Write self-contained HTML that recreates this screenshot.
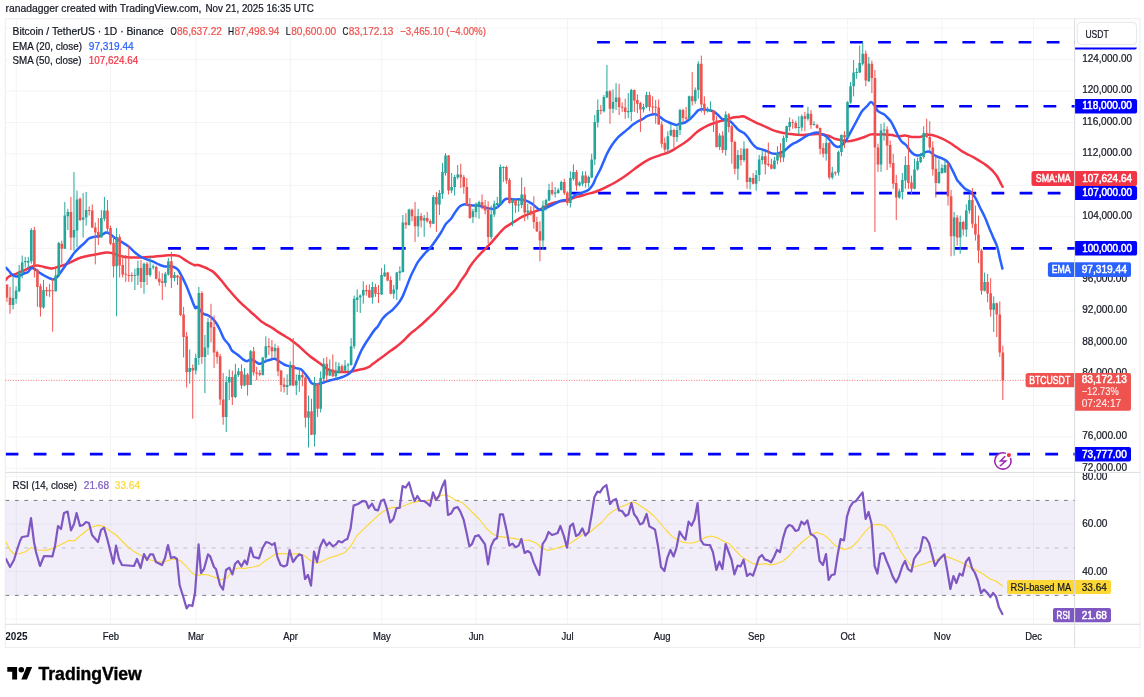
<!DOCTYPE html>
<html lang="en"><head><meta charset="utf-8"><title>BTCUSDT chart</title>
<style>html,body{margin:0;padding:0;background:#fff}svg{display:block}text{font-family:"Liberation Sans",sans-serif;white-space:pre}</style></head><body>
<svg width="1144" height="697" viewBox="0 0 1144 697">
<rect width="1144" height="697" fill="#fff"/>
<text x="5.5" y="12" font-size="10.5" fill="#131722" stroke="#131722" stroke-width="0.22" textLength="196" lengthAdjust="spacingAndGlyphs">ranadagger created with TradingView.com,</text>
<text x="205.4" y="12" font-size="10.5" fill="#131722" stroke="#131722" stroke-width="0.22" textLength="108.4" lengthAdjust="spacingAndGlyphs">Nov 21, 2025 16:35 UTC</text>
<g stroke="#f3f4f5" stroke-width="1" fill="none">
<path d="M5.25 28.10H1074.6"/>
<path d="M5.25 59.55H1074.6"/>
<path d="M5.25 91.00H1074.6"/>
<path d="M5.25 122.45H1074.6"/>
<path d="M5.25 153.90H1074.6"/>
<path d="M5.25 185.35H1074.6"/>
<path d="M5.25 216.80H1074.6"/>
<path d="M5.25 248.25H1074.6"/>
<path d="M5.25 279.70H1074.6"/>
<path d="M5.25 311.15H1074.6"/>
<path d="M5.25 342.60H1074.6"/>
<path d="M5.25 374.05H1074.6"/>
<path d="M5.25 405.50H1074.6"/>
<path d="M5.25 436.95H1074.6"/>
<path d="M5.25 468.40H1074.6"/>
<path d="M5.25 476.65H1074.6"/>
<path d="M5.25 524.15H1074.6"/>
<path d="M5.25 571.65H1074.6"/>
<path d="M5.25 619.15H1074.6"/>
<path d="M16.25 18.75V624.3"/>
<path d="M110.66 18.75V624.3"/>
<path d="M195.93 18.75V624.3"/>
<path d="M290.35 18.75V624.3"/>
<path d="M381.71 18.75V624.3"/>
<path d="M476.12 18.75V624.3"/>
<path d="M567.49 18.75V624.3"/>
<path d="M661.90 18.75V624.3"/>
<path d="M756.31 18.75V624.3"/>
<path d="M847.67 18.75V624.3"/>
<path d="M942.08 18.75V624.3"/>
<path d="M1033.45 18.75V624.3"/>
</g>
<rect x="5.25" y="18.75" width="1134.75" height="628.85" stroke="#ebecee" stroke-width="1" fill="none"/>
<g stroke="#dcdde0" stroke-width="1" fill="none">
<path d="M5.25 472.4H1140.0"/>
<path d="M5.25 624.3H1140.0"/>
<path d="M1074.6 18.75V647.6"/>
</g>
<rect x="5.75" y="500.40" width="1068.85" height="95.00" fill="#7e57c2" fill-opacity="0.1"/>
<g fill="none" stroke-width="1" stroke-dasharray="3.8 5.566">
<path d="M5.6 500.40H1074.6" stroke="#787b86"/>
<path d="M5.6 547.90H1074.6" stroke="#787b86" stroke-opacity="0.4"/>
<path d="M5.6 595.40H1074.6" stroke="#787b86"/>
</g>
<defs><clipPath id="cp"><rect x="5.75" y="18.75" width="1068.85" height="453.65"/></clipPath></defs>
<path d="M5.25 380.4H1074.6" stroke="#ef5350" stroke-width="1" stroke-dasharray="1 1.55" fill="none" stroke-opacity="0.8"/>
<path d="M597.1 42.25H1077.6" stroke="#0000ff" stroke-width="2.7" stroke-dasharray="12.8 15.3" fill="none" clip-path="url(#cp)"/>
<path d="M762.5 106.25H1077.6" stroke="#0000ff" stroke-width="2.7" stroke-dasharray="12.8 15.3" fill="none" clip-path="url(#cp)"/>
<path d="M570.0 193.1H1077.6" stroke="#0000ff" stroke-width="2.7" stroke-dasharray="12.8 15.3" fill="none" clip-path="url(#cp)"/>
<path d="M168.1 248.4H1077.6" stroke="#0000ff" stroke-width="2.7" stroke-dasharray="12.8 15.3" fill="none" clip-path="url(#cp)"/>
<path d="M5.6 454.1H1077.6" stroke="#0000ff" stroke-width="2.7" stroke-dasharray="12.8 15.3" fill="none" clip-path="url(#cp)"/>
<g clip-path="url(#cp)">
<path d="M5.6 280.0C6.2 279.4 7.3 277.5 9.0 276.5C10.7 275.5 13.3 274.8 16.0 273.8C18.7 272.7 22.5 271.1 25.0 270.0C27.5 268.9 29.0 267.6 31.0 266.9C33.0 266.2 34.8 265.6 37.0 265.6C39.2 265.6 41.5 266.4 44.0 266.9C46.5 267.4 49.3 268.5 52.0 268.4C54.7 268.3 57.2 267.1 60.0 266.2C62.8 265.4 65.5 264.6 69.0 263.1C72.5 261.6 76.8 258.9 81.0 257.5C85.2 256.1 89.8 255.5 94.0 254.7C98.2 253.9 103.0 252.8 106.0 252.5C109.0 252.2 109.8 252.6 112.0 253.1C114.2 253.6 116.8 255.0 119.0 255.6C121.2 256.2 122.2 256.6 125.0 256.9C127.8 257.2 132.2 257.5 136.0 257.5C139.8 257.5 143.8 257.2 148.0 257.0C152.2 256.8 157.7 256.3 161.0 256.0C164.3 255.7 166.0 255.4 168.0 255.2C170.0 255.1 171.2 255.1 173.0 255.2C174.8 255.4 176.8 255.4 179.0 256.2C181.2 257.1 183.5 259.1 186.0 260.6C188.5 262.1 192.0 264.3 194.0 265.0C196.0 265.7 196.2 264.6 198.0 265.0C199.8 265.4 203.0 266.7 205.0 267.5C207.0 268.3 208.5 269.2 210.0 270.0C211.5 270.8 212.0 270.6 214.0 272.5C216.0 274.4 219.5 278.3 222.0 281.2C224.5 284.2 226.2 286.7 229.0 290.0C231.8 293.3 235.5 297.7 239.0 301.2C242.5 304.8 247.0 308.5 250.0 311.2C253.0 314.0 255.2 315.8 257.0 317.5C258.8 319.2 259.3 320.0 261.0 321.2C262.7 322.5 265.0 323.8 267.0 325.0C269.0 326.2 271.2 327.2 273.0 328.4C274.8 329.5 276.0 330.6 278.0 331.9C280.0 333.2 282.8 334.9 285.0 336.2C287.2 337.6 288.7 338.3 291.0 340.0C293.3 341.7 296.7 344.3 299.0 346.2C301.3 348.2 303.2 350.2 305.0 351.9C306.8 353.6 308.2 354.8 310.0 356.2C311.8 357.7 314.0 359.1 316.0 360.6C318.0 362.1 320.0 363.5 322.0 365.0C324.0 366.5 326.2 368.4 328.0 369.4C329.8 370.4 330.8 370.8 333.0 371.2C335.2 371.7 338.3 371.8 341.0 371.9C343.7 372.0 347.0 372.0 349.0 371.9C351.0 371.8 351.5 371.6 353.0 371.2C354.5 370.9 356.2 370.4 358.0 370.0C359.8 369.6 362.2 369.3 364.0 368.8C365.8 368.2 367.5 367.7 369.0 366.9C370.5 366.1 371.5 364.9 373.0 363.8C374.5 362.6 376.0 361.5 378.0 360.0C380.0 358.5 382.8 356.6 385.0 355.0C387.2 353.4 389.0 352.1 391.0 350.6C393.0 349.1 395.0 347.8 397.0 346.2C399.0 344.7 401.0 343.1 403.0 341.2C405.0 339.4 407.0 336.9 409.0 335.0C411.0 333.1 413.0 331.7 415.0 330.0C417.0 328.3 418.8 326.9 421.0 325.0C423.2 323.1 425.7 320.7 428.0 318.5C430.3 316.3 432.7 314.2 435.0 311.9C437.3 309.5 439.3 307.3 442.0 304.4C444.7 301.5 448.7 297.0 451.0 294.4C453.3 291.8 454.3 291.1 456.0 288.8C457.7 286.4 459.3 283.1 461.0 280.6C462.7 278.1 464.5 276.1 466.0 273.8C467.5 271.4 468.2 269.2 470.0 266.5C471.8 263.8 474.3 260.6 477.0 257.5C479.7 254.4 483.5 250.7 486.0 248.1C488.5 245.5 489.7 244.5 492.0 241.9C494.3 239.3 497.8 234.9 500.0 232.5C502.2 230.1 503.3 228.8 505.0 227.5C506.7 226.2 508.2 225.6 510.0 224.4C511.8 223.2 514.0 221.8 516.0 220.6C518.0 219.3 519.8 218.0 522.0 216.9C524.2 215.8 526.7 214.7 529.0 213.8C531.3 212.8 533.7 212.2 536.0 211.2C538.3 210.3 540.8 209.2 543.0 208.1C545.2 207.0 547.0 205.3 549.0 204.4C551.0 203.5 553.0 203.0 555.0 202.5C557.0 202.0 559.0 201.6 561.0 201.2C563.0 200.9 564.8 200.9 567.0 200.3C569.2 199.7 571.8 198.4 574.0 197.7C576.2 197.0 578.0 196.8 580.0 196.2C582.0 195.7 583.7 195.1 586.0 194.4C588.3 193.7 591.7 193.0 594.0 192.3C596.3 191.6 597.7 191.0 600.0 190.0C602.3 189.0 605.5 187.5 608.0 186.2C610.5 185.0 612.5 184.0 615.0 182.5C617.5 181.0 620.5 179.2 623.0 177.5C625.5 175.8 627.3 174.5 630.0 172.5C632.7 170.5 635.8 167.8 639.0 165.6C642.2 163.4 645.7 161.1 649.0 159.4C652.3 157.7 655.8 156.8 659.0 155.6C662.2 154.4 665.3 153.6 668.0 152.5C670.7 151.4 672.5 150.2 675.0 148.8C677.5 147.3 680.5 145.5 683.0 143.8C685.5 142.0 687.7 140.5 690.0 138.5C692.3 136.5 694.7 133.7 697.0 131.9C699.3 130.1 702.0 128.7 704.0 127.5C706.0 126.3 707.2 125.8 709.0 125.0C710.8 124.2 713.0 123.4 715.0 122.7C717.0 122.0 719.0 121.5 721.0 120.9C723.0 120.4 725.0 120.0 727.0 119.4C729.0 118.8 731.0 117.9 733.0 117.5C735.0 117.1 737.3 117.1 739.0 116.9C740.7 116.7 741.8 116.2 743.0 116.2C744.2 116.3 744.7 116.9 746.0 117.5C747.3 118.1 749.2 119.1 751.0 120.0C752.8 120.9 755.0 122.2 757.0 123.1C759.0 124.0 760.7 124.5 763.0 125.6C765.3 126.6 768.3 128.3 771.0 129.4C773.7 130.5 776.2 131.3 779.0 132.0C781.8 132.7 785.0 133.2 788.0 133.7C791.0 134.1 794.5 134.5 797.0 134.7C799.5 134.9 800.7 135.1 803.0 135.0C805.3 134.9 808.5 134.6 811.0 134.4C813.5 134.2 815.8 133.9 818.0 133.9C820.2 133.9 822.2 134.1 824.0 134.4C825.8 134.8 827.2 135.3 829.0 136.0C830.8 136.7 833.0 138.1 835.0 138.8C837.0 139.4 838.8 139.6 841.0 140.0C843.2 140.4 845.7 141.2 848.0 141.2C850.3 141.2 852.5 140.6 855.0 140.0C857.5 139.4 860.3 138.4 863.0 137.5C865.7 136.6 868.7 134.9 871.0 134.4C873.3 133.9 874.7 134.4 877.0 134.4C879.3 134.4 882.5 134.3 885.0 134.4C887.5 134.5 889.8 134.7 892.0 135.0C894.2 135.3 895.8 136.2 898.0 136.2C900.2 136.3 902.7 135.5 905.0 135.6C907.3 135.7 909.5 136.7 912.0 136.9C914.5 137.1 917.7 137.2 920.0 136.9C922.3 136.6 924.0 135.3 926.0 135.0C928.0 134.7 930.0 134.7 932.0 135.0C934.0 135.3 936.0 136.2 938.0 136.9C940.0 137.7 941.8 138.4 944.0 139.5C946.2 140.6 949.0 142.2 951.0 143.5C953.0 144.8 954.0 145.6 956.0 147.0C958.0 148.4 960.8 150.6 963.0 151.9C965.2 153.2 967.0 154.0 969.0 155.0C971.0 156.0 973.2 157.1 975.0 158.1C976.8 159.1 978.3 160.2 980.0 161.2C981.7 162.3 983.5 163.4 985.0 164.4C986.5 165.4 987.7 166.4 989.0 167.5C990.3 168.6 991.7 169.8 993.0 171.2C994.3 172.7 995.8 174.5 997.0 176.2C998.2 178.0 999.1 180.1 1000.0 181.9C1000.9 183.7 1002.2 186.0 1002.6 186.8" stroke="#f23645" stroke-width="2.5" fill="none" stroke-linejoin="round" stroke-linecap="round"/>
<path d="M5.6 267.5C6.2 268.1 7.9 269.8 9.0 271.0C10.1 272.2 10.8 273.6 12.0 274.5C13.2 275.4 14.7 276.3 16.0 276.5C17.3 276.7 18.7 276.0 20.0 275.5C21.3 275.0 22.7 274.1 24.0 273.5C25.3 272.9 26.8 272.9 28.0 272.0C29.2 271.1 30.3 268.7 31.2 268.1C32.2 267.5 32.7 268.2 33.5 268.5C34.3 268.8 34.9 269.2 36.0 270.0C37.1 270.8 38.5 272.0 40.0 273.0C41.5 274.0 42.9 274.9 45.0 276.0C47.1 277.1 50.7 279.1 52.5 279.4C54.3 279.7 55.0 278.7 56.0 278.0C57.0 277.3 57.6 276.5 58.8 275.0C59.9 273.5 61.5 271.1 63.0 269.0C64.5 266.9 66.2 264.4 67.5 262.5C68.8 260.6 69.8 259.2 71.0 257.5C72.2 255.8 73.3 253.9 75.0 252.0C76.7 250.1 79.3 247.6 81.0 246.0C82.7 244.4 83.7 243.8 85.0 242.5C86.3 241.2 87.5 239.4 89.0 238.5C90.5 237.6 92.2 237.3 94.0 236.9C95.8 236.5 98.0 236.7 100.0 236.0C102.0 235.3 104.3 232.8 106.0 232.5C107.7 232.2 108.5 233.1 110.0 234.0C111.5 234.9 113.3 236.8 115.0 238.0C116.7 239.2 117.8 239.7 120.0 241.0C122.2 242.3 125.5 244.1 128.0 246.0C130.5 247.9 132.7 250.6 135.0 252.5C137.3 254.4 139.2 256.0 142.0 257.5C144.8 259.0 149.0 260.0 152.0 261.2C155.0 262.5 157.8 264.1 160.0 265.0C162.2 265.9 163.2 266.3 165.0 266.5C166.8 266.7 169.0 265.9 171.0 266.2C173.0 266.6 175.4 267.5 177.0 268.8C178.6 270.0 179.0 271.0 180.5 273.8C182.0 276.5 184.4 281.5 186.0 285.0C187.6 288.5 188.5 291.2 190.0 295.0C191.5 298.8 193.8 305.5 195.0 307.5C196.2 309.5 196.2 306.0 197.5 307.0C198.8 308.0 201.2 312.1 203.0 313.5C204.8 314.9 206.5 314.6 208.0 315.3C209.5 316.1 210.7 316.8 212.0 318.0C213.3 319.2 214.7 320.7 216.0 322.7C217.3 324.7 218.7 327.3 220.0 330.0C221.3 332.7 222.5 336.2 224.0 338.8C225.5 341.2 227.7 343.0 229.0 345.0C230.3 347.0 230.5 348.9 232.0 350.6C233.5 352.3 236.2 353.5 238.0 355.0C239.8 356.5 241.5 358.4 243.0 359.4C244.5 360.4 245.7 361.2 247.0 361.2C248.3 361.2 249.7 359.4 251.0 359.4C252.3 359.4 253.7 360.5 255.0 361.2C256.3 362.0 257.7 363.5 259.0 363.8C260.3 364.0 261.7 363.0 263.0 362.5C264.3 362.0 265.5 361.2 267.0 360.6C268.5 360.1 270.7 359.5 272.0 359.2C273.3 358.9 273.8 358.4 275.0 358.8C276.2 359.1 277.7 360.4 279.0 361.2C280.3 362.1 281.7 363.0 283.0 363.8C284.3 364.5 285.7 365.2 287.0 365.6C288.3 366.0 289.5 365.8 291.0 366.2C292.5 366.7 294.3 367.6 296.0 368.1C297.7 368.6 299.7 368.7 301.0 369.4C302.3 370.1 302.8 371.1 304.0 372.5C305.2 373.9 306.8 375.8 308.0 377.5C309.2 379.2 310.2 381.5 311.0 382.5C311.8 383.5 312.0 383.4 313.0 383.8C314.0 384.1 315.5 384.5 317.0 384.4C318.5 384.3 320.3 383.6 322.0 383.1C323.7 382.6 325.0 381.9 327.0 381.2C329.0 380.6 331.7 380.0 334.0 379.4C336.3 378.8 338.8 378.2 341.0 377.5C343.2 376.8 345.3 375.9 347.0 375.0C348.7 374.1 349.8 373.1 351.0 371.9C352.2 370.6 353.0 369.4 354.0 367.5C355.0 365.6 355.8 363.3 357.0 360.6C358.2 357.9 359.5 354.3 361.0 351.2C362.5 348.2 364.3 345.2 366.0 342.5C367.7 339.8 369.5 337.2 371.0 335.0C372.5 332.8 373.8 330.9 375.0 329.4C376.2 327.9 376.8 327.9 378.0 326.2C379.2 324.6 380.7 321.3 382.0 319.4C383.3 317.5 384.7 316.2 386.0 315.0C387.3 313.8 388.8 312.8 390.0 311.9C391.2 311.0 391.5 311.0 393.0 309.4C394.5 307.8 397.3 304.8 399.0 302.5C400.7 300.2 401.7 298.4 403.0 295.6C404.3 292.8 405.7 288.9 407.0 285.6C408.3 282.3 409.7 278.6 411.0 275.6C412.3 272.6 413.8 269.8 415.0 267.5C416.2 265.2 416.5 264.1 418.0 261.9C419.5 259.7 422.0 256.7 424.0 254.4C426.0 252.1 428.0 250.5 430.0 248.1C432.0 245.7 434.2 242.6 436.0 240.0C437.8 237.4 439.3 235.2 441.0 232.5C442.7 229.8 444.3 226.0 446.0 223.8C447.7 221.5 449.5 220.6 451.0 218.8C452.5 216.9 453.5 214.6 455.0 212.5C456.5 210.4 458.5 207.6 460.0 206.2C461.5 204.9 462.5 204.6 464.0 204.4C465.5 204.2 467.2 204.8 469.0 205.0C470.8 205.2 473.5 205.5 475.0 205.6C476.5 205.7 476.7 205.4 478.0 205.6C479.3 205.8 481.2 206.4 483.0 206.9C484.8 207.4 487.3 208.1 489.0 208.4C490.7 208.8 491.7 209.2 493.0 209.0C494.3 208.8 495.7 208.4 497.0 207.5C498.3 206.6 499.7 205.1 501.0 203.8C502.3 202.4 503.8 200.2 505.0 199.4C506.2 198.6 506.5 198.8 508.0 198.8C509.5 198.8 512.0 199.3 514.0 199.4C516.0 199.5 518.0 199.2 520.0 199.4C522.0 199.6 524.2 200.0 526.0 200.6C527.8 201.2 529.5 202.2 531.0 203.1C532.5 204.0 533.7 205.2 535.0 206.2C536.3 207.3 537.8 208.8 539.0 209.4C540.2 210.0 540.8 210.2 542.0 210.0C543.2 209.8 544.5 208.8 546.0 208.1C547.5 207.4 549.3 206.4 551.0 205.6C552.7 204.8 554.3 203.9 556.0 203.1C557.7 202.3 559.3 201.1 561.0 200.6C562.7 200.1 564.3 200.3 566.0 200.0C567.7 199.7 569.3 199.4 571.0 198.5C572.7 197.6 574.2 195.6 576.0 194.7C577.8 193.8 579.8 193.7 582.0 192.8C584.2 191.9 587.2 190.8 589.0 189.4C590.8 188.0 591.8 186.4 593.0 184.4C594.2 182.4 594.8 179.9 596.0 177.5C597.2 175.1 598.8 172.4 600.0 170.0C601.2 167.6 601.8 165.8 603.0 163.1C604.2 160.4 605.5 156.8 607.0 153.8C608.5 150.7 610.2 147.7 612.0 145.0C613.8 142.3 616.0 139.4 618.0 137.3C620.0 135.2 622.2 133.8 624.0 132.3C625.8 130.8 627.5 129.4 629.0 128.1C630.5 126.8 631.5 125.7 633.0 124.6C634.5 123.5 636.5 122.1 638.0 121.2C639.5 120.4 640.5 120.2 642.0 119.4C643.5 118.6 645.3 117.1 647.0 116.2C648.7 115.4 650.5 114.7 652.0 114.4C653.5 114.1 654.7 114.0 656.0 114.4C657.3 114.8 658.7 116.0 660.0 116.9C661.3 117.8 662.5 119.1 664.0 120.0C665.5 120.9 667.5 121.8 669.0 122.5C670.5 123.2 671.8 123.6 673.0 124.0C674.2 124.4 674.8 125.0 676.0 125.0C677.2 125.0 678.5 124.2 680.0 123.8C681.5 123.3 683.3 123.3 685.0 122.5C686.7 121.7 688.5 120.2 690.0 119.0C691.5 117.8 692.7 116.4 694.0 115.0C695.3 113.6 696.7 111.5 698.0 110.5C699.3 109.5 700.3 109.4 702.0 109.3C703.7 109.2 706.2 109.7 708.0 110.0C709.8 110.3 711.3 110.4 713.0 111.2C714.7 112.1 716.5 113.8 718.0 115.0C719.5 116.2 720.5 117.9 722.0 118.8C723.5 119.6 725.5 119.5 727.0 120.0C728.5 120.5 729.7 121.0 731.0 122.0C732.3 123.0 733.7 124.9 735.0 126.2C736.3 127.6 737.5 129.2 739.0 130.3C740.5 131.4 742.5 131.9 744.0 133.1C745.5 134.3 746.8 136.0 748.0 137.5C749.2 139.0 750.0 140.6 751.0 141.9C752.0 143.2 753.0 144.6 754.0 145.6C755.0 146.6 755.7 147.5 757.0 148.1C758.3 148.7 760.3 148.9 762.0 149.4C763.7 149.9 765.5 150.6 767.0 151.2C768.5 151.9 769.7 152.7 771.0 153.1C772.3 153.5 773.7 153.8 775.0 153.8C776.3 153.8 777.5 153.5 779.0 153.1C780.5 152.7 782.5 152.2 784.0 151.2C785.5 150.3 786.7 148.6 788.0 147.5C789.3 146.4 790.5 145.3 792.0 144.4C793.5 143.5 795.3 142.8 797.0 141.9C798.7 141.0 800.3 139.8 802.0 138.8C803.7 137.7 805.3 136.5 807.0 135.6C808.7 134.7 810.3 134.0 812.0 133.5C813.7 133.0 815.5 132.5 817.0 132.5C818.5 132.5 819.5 133.1 821.0 133.8C822.5 134.4 824.5 135.1 826.0 136.2C827.5 137.3 828.7 138.8 830.0 140.3C831.3 141.8 832.7 143.9 834.0 145.0C835.3 146.1 836.7 146.9 838.0 146.9C839.3 146.9 840.7 146.1 842.0 145.0C843.3 143.9 844.7 142.6 846.0 140.6C847.3 138.6 848.5 135.9 850.0 133.1C851.5 130.3 853.5 126.8 855.0 124.0C856.5 121.2 857.8 118.6 859.0 116.5C860.2 114.4 860.7 113.0 862.0 111.2C863.3 109.5 865.5 107.8 867.0 106.2C868.5 104.7 869.7 101.9 871.0 101.9C872.3 101.9 873.8 104.7 875.0 106.2C876.2 107.8 876.5 109.9 878.0 111.2C879.5 112.6 882.3 113.2 884.0 114.3C885.7 115.4 886.8 116.9 888.0 118.1C889.2 119.3 889.8 119.8 891.0 121.7C892.2 123.6 893.7 126.8 895.0 129.4C896.3 132.0 897.8 135.4 899.0 137.5C900.2 139.6 900.8 140.7 902.0 141.9C903.2 143.2 904.7 143.6 906.0 145.0C907.3 146.4 908.7 149.0 910.0 150.6C911.3 152.2 912.7 153.6 914.0 154.4C915.3 155.2 916.7 155.6 918.0 155.6C919.3 155.6 920.7 155.0 922.0 154.4C923.3 153.8 924.7 152.3 926.0 151.9C927.3 151.5 928.7 151.4 930.0 151.9C931.3 152.4 932.7 154.2 934.0 155.0C935.3 155.8 936.5 156.4 938.0 157.0C939.5 157.6 941.7 158.2 943.0 158.8C944.3 159.3 945.0 159.8 946.0 160.6C947.0 161.4 948.0 162.3 949.0 163.8C950.0 165.2 951.0 167.4 952.0 169.4C953.0 171.4 954.2 173.8 955.0 175.5C955.8 177.2 956.3 178.6 957.0 179.8C957.7 181.0 958.5 181.5 959.4 182.6C960.3 183.7 961.4 185.1 962.5 186.2C963.6 187.3 964.7 188.6 965.9 189.4C967.1 190.2 968.6 190.3 969.9 191.3C971.2 192.3 972.6 193.9 973.8 195.5C975.0 197.1 975.9 198.8 976.9 200.8C977.9 202.8 978.6 204.7 980.0 207.5C981.4 210.3 983.5 214.2 985.0 217.5C986.5 220.8 987.7 224.3 989.0 227.5C990.3 230.7 991.7 233.8 993.0 236.9C994.3 240.0 995.8 242.6 997.0 246.2C998.2 249.9 999.1 255.0 1000.0 258.8C1000.9 262.5 1002.0 267.0 1002.4 268.6" stroke="#2962ff" stroke-width="2.5" fill="none" stroke-linejoin="round" stroke-linecap="round"/>
</g>
<g clip-path="url(#cp)">
<path d="M13.05 276.25V309.40M16.10 286.25V303.75M19.15 265.00V292.00M22.19 255.60V278.10M25.24 256.90V267.50M28.28 256.90V268.10M31.33 228.10V263.75M43.51 280.00V308.75M55.69 268.75V291.50M58.74 241.90V276.25M64.83 201.90V249.00M67.87 208.75V230.00M73.96 172.10V250.60M77.01 190.60V246.90M83.10 193.10V237.50M86.15 191.90V225.60M101.37 210.00V237.50M104.42 196.90V221.25M116.60 228.10V316.25M134.87 268.75V290.00M137.92 260.60V285.00M144.01 262.50V293.75M150.10 256.90V276.90M153.15 264.40V269.40M165.33 271.90V286.90M168.38 258.10V275.60M174.47 271.90V281.25M189.69 349.40V383.75M195.78 353.75V374.40M198.83 286.90V365.00M204.92 335.00V393.10M207.97 318.10V355.00M226.24 376.25V431.90M229.28 369.40V400.00M235.38 363.75V398.10M238.42 368.10V376.90M244.51 368.10V386.25M250.60 350.00V385.00M262.79 356.90V375.60M265.83 336.25V361.90M274.97 343.75V357.50M287.15 374.40V395.00M290.20 361.25V385.60M296.29 374.40V395.00M299.33 368.75V391.90M308.47 395.60V447.50M314.56 376.90V446.60M320.65 371.25V412.50M323.70 358.10V382.50M329.79 359.40V376.25M335.88 361.90V379.40M338.92 362.50V373.75M345.01 360.00V371.25M348.06 363.10V372.50M351.11 338.10V365.60M354.15 295.60V348.75M357.20 289.40V312.00M360.24 294.40V313.00M363.29 281.25V303.75M372.42 281.90V303.75M381.56 268.10V295.00M384.61 264.40V276.90M393.74 285.00V298.75M396.79 271.90V300.00M399.83 266.25V280.60M402.88 215.00V272.50M408.97 208.75V225.60M418.11 208.75V236.90M424.20 215.00V236.90M433.33 195.00V224.00M439.42 190.00V215.00M442.47 163.10V198.75M445.52 153.10V175.60M451.61 173.10V193.10M454.65 175.00V195.60M457.70 165.00V179.40M472.93 208.75V223.10M475.97 202.50V217.50M479.02 200.60V218.75M491.20 205.60V239.40M494.24 200.60V216.90M497.29 196.90V208.10M500.33 164.40V205.00M503.38 166.25V181.90M512.52 198.75V226.25M518.61 199.40V211.90M521.65 177.50V208.10M527.74 203.75V219.40M542.97 200.60V250.00M546.02 198.75V210.60M549.06 183.75V201.25M555.15 186.90V197.50M558.20 188.10V193.75M561.24 180.60V190.60M570.38 171.25V207.50M573.43 164.40V180.60M579.52 181.25V186.25M582.56 171.25V186.25M588.65 175.60V187.50M591.70 153.75V178.10M594.75 115.00V165.00M597.79 99.40V127.50M603.88 95.00V112.50M606.93 65.00V98.10M613.02 89.40V113.10M616.06 83.10V110.00M628.25 93.10V118.10M631.29 88.75V121.25M643.47 103.75V112.50M646.52 91.90V108.10M667.84 131.25V153.75M670.88 124.40V136.25M676.97 125.00V141.90M680.02 108.75V135.00M689.16 95.60V119.40M695.25 87.50V103.75M698.29 61.25V98.75M707.43 106.90V112.50M710.47 101.25V111.90M719.61 133.10V150.00M725.70 111.25V155.60M737.88 150.00V180.00M743.97 141.25V161.90M750.07 176.90V189.40M756.16 170.00V190.60M759.20 155.00V181.25M762.25 150.00V164.40M774.43 156.90V169.40M777.48 146.25V164.40M783.57 135.60V161.90M786.61 125.60V141.90M789.66 117.50V131.25M798.79 116.25V134.40M801.84 114.40V131.25M807.93 106.90V120.60M814.02 121.25V125.60M826.20 137.50V160.60M832.29 166.90V179.40M838.39 150.60V175.60M841.43 134.40V156.25M847.52 101.25V138.00M850.57 81.90V103.75M853.61 60.00V96.25M856.66 68.10V78.75M859.70 45.60V73.00M862.75 41.90V65.60M868.84 56.90V82.00M881.02 123.75V171.90M884.07 122.50V140.60M899.30 188.75V198.75M902.34 173.10V199.40M905.39 156.25V188.75M914.52 158.75V189.40M917.57 157.50V170.60M920.61 153.10V163.10M923.66 126.25V158.75M938.89 159.40V183.75M941.93 164.40V173.75M944.98 160.00V173.10M954.11 211.90V255.60M960.21 215.60V253.75M966.30 204.40V236.90M969.34 195.00V213.75M984.57 272.60V291.40M993.71 296.40V332.00" stroke="#26a69a" stroke-width="1" fill="none"/>
<path d="M6.96 284.40V301.90M10.01 286.90V313.75M34.37 226.90V277.50M37.42 268.75V306.90M40.46 283.75V316.50M46.56 286.90V296.25M49.60 283.75V296.90M52.65 278.75V331.70M61.78 240.60V263.75M70.92 196.90V250.00M80.06 197.50V221.25M89.19 206.25V215.60M92.24 204.40V228.10M95.28 222.50V264.40M98.33 218.10V245.00M107.47 200.00V233.10M110.51 225.60V245.00M113.56 236.25V277.50M119.65 234.40V277.50M122.69 255.00V277.50M125.74 255.00V281.90M128.78 245.60V281.90M131.83 272.50V281.90M140.97 260.00V288.10M147.06 261.90V285.00M156.19 265.60V279.40M159.24 271.25V285.60M162.28 273.10V300.00M171.42 251.90V288.10M177.51 275.00V285.00M180.56 275.60V316.25M183.60 306.90V357.50M186.65 331.90V387.50M192.74 364.40V418.75M201.88 291.25V363.75M211.01 303.75V342.50M214.06 315.60V368.10M217.10 350.60V363.75M220.15 353.75V405.00M223.19 373.10V424.75M232.33 370.60V405.00M241.47 364.40V388.75M247.56 373.10V395.60M253.65 346.90V375.60M256.69 366.90V380.00M259.74 370.00V376.25M268.88 338.10V355.00M271.92 340.00V358.10M278.01 345.60V376.25M281.06 370.00V391.90M284.10 377.50V392.50M293.24 338.10V386.25M302.38 371.90V386.25M305.42 375.00V427.50M311.51 398.75V435.00M317.60 383.00V416.90M326.74 356.90V381.25M332.83 354.40V376.90M341.97 364.40V371.90M366.33 285.00V295.60M369.38 284.40V298.00M375.47 283.75V296.90M378.51 285.00V303.10M387.65 271.90V281.25M390.70 276.25V294.40M405.92 213.10V228.75M412.02 208.75V221.25M415.06 201.90V241.90M421.15 213.10V227.50M427.24 211.90V222.50M430.29 219.40V227.50M436.38 191.90V231.90M448.56 155.00V194.40M460.74 163.75V188.10M463.79 175.00V193.75M466.83 178.10V205.60M469.88 198.10V218.75M482.06 194.40V209.40M485.11 200.00V214.40M488.15 201.25V243.75M506.43 165.60V183.75M509.47 178.10V203.75M515.56 199.40V213.10M524.70 186.90V221.25M530.79 206.25V215.60M533.84 196.25V228.75M536.88 216.90V232.00M539.93 221.25V261.25M552.11 181.90V195.60M564.29 178.75V195.00M567.34 191.25V205.60M576.47 170.00V190.60M585.61 171.25V187.50M600.84 105.00V114.40M609.97 90.00V123.75M619.11 83.75V115.00M622.15 102.50V111.90M625.20 98.75V118.75M634.34 89.40V111.90M637.38 94.40V113.10M640.43 101.90V131.90M649.56 91.90V111.25M652.61 96.25V113.75M655.66 100.00V123.75M658.70 99.40V125.00M661.75 121.25V147.50M664.79 137.50V151.90M673.93 128.75V148.10M683.06 108.75V122.50M686.11 106.90V120.00M692.20 71.90V105.60M701.34 55.60V112.50M704.38 96.25V115.00M713.52 110.00V131.90M716.57 116.25V147.50M722.66 131.25V153.10M728.75 113.10V132.50M731.79 125.00V163.75M734.84 140.60V174.40M740.93 148.10V165.60M747.02 148.10V188.75M753.11 173.10V184.40M765.29 151.90V174.40M768.34 142.50V166.90M771.38 158.75V169.40M780.52 143.10V162.50M792.70 119.40V128.75M795.75 120.60V128.75M804.88 111.90V131.25M810.98 110.00V128.75M817.07 123.75V128.75M820.11 127.50V154.40M823.16 143.10V157.50M829.25 141.90V179.40M835.34 171.25V175.60M844.48 131.25V148.10M865.79 50.60V86.25M871.89 60.60V93.10M874.93 70.00V231.90M877.98 143.75V171.90M887.11 126.25V170.00M890.16 140.60V167.50M893.20 153.75V188.75M896.25 175.00V220.00M908.43 136.25V188.75M911.48 175.60V195.00M926.70 118.75V138.10M929.75 121.25V151.25M932.80 141.25V175.60M935.84 156.90V197.50M948.02 162.50V205.60M951.07 190.00V256.25M957.16 215.00V245.60M963.25 220.60V235.60M972.39 188.10V228.10M975.43 205.60V240.60M978.48 215.60V263.10M981.52 248.75V294.75M987.61 273.90V302.25M990.66 278.25V316.75M996.75 302.60V337.00M999.80 301.40V356.90M1002.84 345.60V400.00" stroke="#ef5350" stroke-width="1" fill="none"/>
<path d="M11.75 298.10h2.6V305.00h-2.6zM14.80 290.60h2.6V298.75h-2.6zM17.85 271.90h2.6V291.25h-2.6zM20.89 262.50h2.6V272.50h-2.6zM23.94 261.00h2.6V262.25h-2.6zM26.98 261.00h2.6V262.50h-2.6zM30.03 230.00h2.6V261.25h-2.6zM42.21 290.00h2.6V307.50h-2.6zM54.39 275.60h2.6V291.25h-2.6zM57.44 243.00h2.6V275.60h-2.6zM63.53 215.60h2.6V248.75h-2.6zM66.57 211.90h2.6V216.25h-2.6zM72.66 230.00h2.6V237.50h-2.6zM75.71 199.40h2.6V230.60h-2.6zM81.80 217.50h2.6V219.75h-2.6zM84.85 210.00h2.6V217.50h-2.6zM100.07 218.10h2.6V237.50h-2.6zM103.12 210.60h2.6V218.75h-2.6zM115.30 236.90h2.6V266.25h-2.6zM133.57 275.00h2.6V276.00h-2.6zM136.62 268.10h2.6V275.60h-2.6zM142.71 263.75h2.6V281.90h-2.6zM148.80 268.10h2.6V275.00h-2.6zM151.85 266.25h2.6V267.50h-2.6zM164.03 273.75h2.6V283.10h-2.6zM167.07 261.25h2.6V274.40h-2.6zM173.17 275.00h2.6V278.10h-2.6zM188.39 368.10h2.6V371.90h-2.6zM194.48 358.10h2.6V370.60h-2.6zM197.53 293.10h2.6V358.10h-2.6zM203.62 347.50h2.6V356.90h-2.6zM206.67 321.90h2.6V347.50h-2.6zM224.94 381.90h2.6V416.90h-2.6zM227.98 376.90h2.6V382.50h-2.6zM234.08 374.40h2.6V396.90h-2.6zM237.12 371.25h2.6V375.00h-2.6zM243.21 374.40h2.6V385.60h-2.6zM249.30 351.25h2.6V385.00h-2.6zM261.49 357.50h2.6V375.00h-2.6zM264.53 346.25h2.6V357.50h-2.6zM273.67 348.10h2.6V351.25h-2.6zM285.85 385.00h2.6V386.90h-2.6zM288.90 365.00h2.6V385.60h-2.6zM294.99 380.60h2.6V385.60h-2.6zM298.03 375.00h2.6V380.60h-2.6zM307.17 411.25h2.6V417.75h-2.6zM313.26 383.75h2.6V434.75h-2.6zM319.35 378.10h2.6V408.75h-2.6zM322.40 363.75h2.6V378.75h-2.6zM328.49 369.40h2.6V375.60h-2.6zM334.58 371.25h2.6V376.25h-2.6zM337.62 366.25h2.6V373.10h-2.6zM343.71 365.60h2.6V370.60h-2.6zM346.76 364.50h2.6V365.60h-2.6zM349.81 346.25h2.6V365.00h-2.6zM352.85 298.75h2.6V346.25h-2.6zM355.90 297.50h2.6V300.00h-2.6zM358.94 295.60h2.6V297.50h-2.6zM361.99 290.00h2.6V295.60h-2.6zM371.12 286.90h2.6V297.50h-2.6zM380.26 275.00h2.6V294.40h-2.6zM383.31 272.50h2.6V276.25h-2.6zM392.44 289.40h2.6V293.75h-2.6zM395.49 272.50h2.6V289.40h-2.6zM398.53 271.25h2.6V273.10h-2.6zM401.58 222.50h2.6V271.90h-2.6zM407.67 209.40h2.6V225.00h-2.6zM416.81 216.00h2.6V226.25h-2.6zM422.90 218.10h2.6V220.60h-2.6zM432.03 196.90h2.6V223.75h-2.6zM438.12 193.10h2.6V204.40h-2.6zM441.17 171.90h2.6V193.75h-2.6zM444.22 155.60h2.6V173.10h-2.6zM450.31 186.90h2.6V190.60h-2.6zM453.35 176.90h2.6V186.90h-2.6zM456.40 174.40h2.6V177.50h-2.6zM471.62 211.25h2.6V216.90h-2.6zM474.67 203.75h2.6V211.90h-2.6zM477.72 201.90h2.6V205.00h-2.6zM489.90 214.40h2.6V236.90h-2.6zM492.94 203.75h2.6V214.40h-2.6zM495.99 203.10h2.6V205.00h-2.6zM499.03 166.90h2.6V203.75h-2.6zM502.08 166.90h2.6V168.10h-2.6zM511.22 200.00h2.6V203.10h-2.6zM517.31 204.40h2.6V205.60h-2.6zM520.35 194.40h2.6V205.00h-2.6zM526.44 210.60h2.6V212.50h-2.6zM541.67 205.60h2.6V240.60h-2.6zM544.72 200.00h2.6V205.60h-2.6zM547.76 190.00h2.6V200.60h-2.6zM553.85 192.50h2.6V193.75h-2.6zM556.90 190.00h2.6V193.10h-2.6zM559.94 181.90h2.6V190.00h-2.6zM569.08 178.10h2.6V203.10h-2.6zM572.13 171.90h2.6V178.75h-2.6zM578.22 182.50h2.6V185.60h-2.6zM581.26 175.60h2.6V183.75h-2.6zM587.35 176.90h2.6V183.10h-2.6zM590.40 159.40h2.6V177.50h-2.6zM593.45 121.90h2.6V159.40h-2.6zM596.49 110.00h2.6V122.50h-2.6zM602.58 96.90h2.6V111.25h-2.6zM605.63 91.25h2.6V97.50h-2.6zM611.72 101.90h2.6V108.75h-2.6zM614.76 97.50h2.6V101.90h-2.6zM626.95 111.00h2.6V112.25h-2.6zM629.99 90.00h2.6V111.90h-2.6zM642.17 106.90h2.6V109.40h-2.6zM645.22 95.00h2.6V106.90h-2.6zM666.54 136.25h2.6V149.40h-2.6zM669.58 130.00h2.6V135.60h-2.6zM675.67 130.00h2.6V136.90h-2.6zM678.72 110.00h2.6V130.00h-2.6zM687.86 96.25h2.6V118.75h-2.6zM693.95 90.00h2.6V101.25h-2.6zM696.99 63.75h2.6V90.00h-2.6zM706.13 110.00h2.6V111.25h-2.6zM709.17 109.40h2.6V110.60h-2.6zM718.31 135.60h2.6V146.90h-2.6zM724.40 114.40h2.6V150.00h-2.6zM736.58 155.00h2.6V168.75h-2.6zM742.67 148.75h2.6V160.00h-2.6zM748.77 178.10h2.6V181.90h-2.6zM754.86 175.00h2.6V183.75h-2.6zM757.90 159.40h2.6V175.00h-2.6zM760.95 156.25h2.6V160.00h-2.6zM773.13 160.60h2.6V168.75h-2.6zM776.18 153.10h2.6V160.60h-2.6zM782.27 138.10h2.6V157.50h-2.6zM785.31 126.25h2.6V138.10h-2.6zM788.36 121.90h2.6V126.90h-2.6zM797.49 126.90h2.6V128.10h-2.6zM800.54 116.25h2.6V127.50h-2.6zM806.63 113.75h2.6V118.75h-2.6zM812.72 124.00h2.6V125.00h-2.6zM824.90 143.10h2.6V153.75h-2.6zM830.99 172.50h2.6V177.50h-2.6zM837.09 151.90h2.6V172.50h-2.6zM840.13 135.00h2.6V151.90h-2.6zM846.22 101.90h2.6V137.50h-2.6zM849.27 86.25h2.6V102.50h-2.6zM852.31 72.50h2.6V86.25h-2.6zM855.36 71.90h2.6V73.10h-2.6zM858.40 63.10h2.6V72.50h-2.6zM861.45 53.75h2.6V63.75h-2.6zM867.54 63.75h2.6V81.25h-2.6zM879.72 130.60h2.6V164.40h-2.6zM882.77 129.40h2.6V130.60h-2.6zM898.00 191.25h2.6V197.50h-2.6zM901.04 180.00h2.6V191.90h-2.6zM904.09 165.00h2.6V180.60h-2.6zM913.22 169.40h2.6V188.75h-2.6zM916.27 161.25h2.6V169.40h-2.6zM919.31 156.90h2.6V161.90h-2.6zM922.36 133.10h2.6V156.90h-2.6zM937.59 171.90h2.6V183.10h-2.6zM940.63 168.10h2.6V173.10h-2.6zM943.68 165.00h2.6V172.50h-2.6zM952.81 217.50h2.6V236.25h-2.6zM958.91 221.90h2.6V237.50h-2.6zM965.00 210.60h2.6V229.40h-2.6zM968.04 200.00h2.6V210.60h-2.6zM983.27 282.00h2.6V290.75h-2.6zM992.41 303.25h2.6V309.75h-2.6z" fill="#26a69a"/>
<path d="M5.66 284.40h2.6V297.50h-2.6zM8.71 297.50h2.6V305.00h-2.6zM33.07 230.00h2.6V266.25h-2.6zM36.12 269.40h2.6V286.90h-2.6zM39.16 286.25h2.6V307.50h-2.6zM45.26 290.00h2.6V291.25h-2.6zM48.30 290.00h2.6V291.25h-2.6zM51.35 290.25h2.6V291.25h-2.6zM60.48 243.75h2.6V248.75h-2.6zM69.62 211.90h2.6V237.50h-2.6zM78.76 198.75h2.6V220.00h-2.6zM87.89 210.00h2.6V211.00h-2.6zM90.94 210.60h2.6V227.50h-2.6zM93.98 227.50h2.6V232.50h-2.6zM97.03 231.90h2.6V235.60h-2.6zM106.17 210.60h2.6V228.75h-2.6zM109.21 228.10h2.6V243.75h-2.6zM112.26 243.00h2.6V266.25h-2.6zM118.35 236.90h2.6V265.60h-2.6zM121.39 265.00h2.6V274.40h-2.6zM124.44 273.75h2.6V274.75h-2.6zM127.48 275.00h2.6V276.00h-2.6zM130.53 275.00h2.6V276.00h-2.6zM139.67 268.10h2.6V281.90h-2.6zM145.76 263.75h2.6V275.00h-2.6zM154.89 266.90h2.6V278.75h-2.6zM157.94 278.75h2.6V281.90h-2.6zM160.98 281.25h2.6V282.90h-2.6zM170.12 261.25h2.6V278.10h-2.6zM176.21 275.40h2.6V277.50h-2.6zM179.26 276.25h2.6V315.00h-2.6zM182.30 314.40h2.6V336.90h-2.6zM185.35 336.25h2.6V371.90h-2.6zM191.44 368.10h2.6V370.60h-2.6zM200.58 293.10h2.6V356.90h-2.6zM209.71 321.90h2.6V327.50h-2.6zM212.76 326.90h2.6V352.50h-2.6zM215.80 351.90h2.6V356.90h-2.6zM218.85 356.25h2.6V399.40h-2.6zM221.89 399.40h2.6V416.90h-2.6zM231.03 376.90h2.6V396.90h-2.6zM240.17 371.25h2.6V385.60h-2.6zM246.26 374.40h2.6V385.00h-2.6zM252.35 351.25h2.6V372.50h-2.6zM255.39 372.50h2.6V373.75h-2.6zM258.44 373.10h2.6V374.75h-2.6zM267.58 346.00h2.6V347.25h-2.6zM270.62 346.90h2.6V351.25h-2.6zM276.71 348.10h2.6V371.25h-2.6zM279.76 370.60h2.6V385.00h-2.6zM282.80 384.40h2.6V386.90h-2.6zM291.94 365.00h2.6V385.60h-2.6zM301.08 375.00h2.6V377.50h-2.6zM304.12 377.50h2.6V417.75h-2.6zM310.21 411.25h2.6V434.75h-2.6zM316.30 383.75h2.6V408.75h-2.6zM325.44 363.75h2.6V375.60h-2.6zM331.53 369.40h2.6V376.25h-2.6zM340.67 366.25h2.6V371.25h-2.6zM365.03 290.00h2.6V291.25h-2.6zM368.08 290.00h2.6V297.50h-2.6zM374.17 286.90h2.6V293.75h-2.6zM377.21 292.93h2.6V293.93h-2.6zM386.35 272.50h2.6V280.60h-2.6zM389.40 280.00h2.6V293.75h-2.6zM404.62 222.50h2.6V224.75h-2.6zM410.72 209.75h2.6V216.25h-2.6zM413.76 216.25h2.6V226.25h-2.6zM419.85 216.00h2.6V220.60h-2.6zM425.94 218.10h2.6V221.25h-2.6zM428.99 221.00h2.6V223.75h-2.6zM435.08 196.90h2.6V204.40h-2.6zM447.26 155.60h2.6V190.60h-2.6zM459.44 174.40h2.6V177.50h-2.6zM462.49 176.90h2.6V186.90h-2.6zM465.53 186.90h2.6V205.00h-2.6zM468.58 204.40h2.6V218.10h-2.6zM480.76 201.90h2.6V206.25h-2.6zM483.81 205.60h2.6V210.60h-2.6zM486.85 210.00h2.6V236.90h-2.6zM505.13 166.90h2.6V180.60h-2.6zM508.17 180.00h2.6V203.10h-2.6zM514.26 200.00h2.6V205.60h-2.6zM523.40 194.40h2.6V212.50h-2.6zM529.49 210.60h2.6V212.50h-2.6zM532.54 211.25h2.6V221.90h-2.6zM535.58 221.90h2.6V231.25h-2.6zM538.63 231.25h2.6V240.60h-2.6zM550.81 190.00h2.6V193.75h-2.6zM562.99 181.90h2.6V193.10h-2.6zM566.04 192.50h2.6V203.10h-2.6zM575.17 171.90h2.6V185.60h-2.6zM584.31 175.60h2.6V183.10h-2.6zM599.54 110.00h2.6V111.00h-2.6zM608.67 91.25h2.6V108.75h-2.6zM617.81 97.50h2.6V106.90h-2.6zM620.85 106.83h2.6V107.83h-2.6zM623.90 107.50h2.6V111.90h-2.6zM633.04 90.00h2.6V100.60h-2.6zM636.08 100.00h2.6V103.75h-2.6zM639.13 103.10h2.6V109.40h-2.6zM648.26 95.00h2.6V106.90h-2.6zM651.31 106.50h2.6V107.50h-2.6zM654.36 106.83h2.6V107.83h-2.6zM657.40 107.50h2.6V124.40h-2.6zM660.45 124.40h2.6V143.75h-2.6zM663.49 143.10h2.6V149.40h-2.6zM672.63 130.00h2.6V136.90h-2.6zM681.76 110.00h2.6V118.10h-2.6zM684.81 117.50h2.6V118.75h-2.6zM690.90 96.25h2.6V101.25h-2.6zM700.04 63.75h2.6V104.40h-2.6zM703.08 103.75h2.6V111.25h-2.6zM712.22 110.60h2.6V120.60h-2.6zM715.27 120.60h2.6V146.90h-2.6zM721.36 135.60h2.6V150.00h-2.6zM727.45 114.40h2.6V126.90h-2.6zM730.49 126.25h2.6V141.90h-2.6zM733.54 141.90h2.6V168.75h-2.6zM739.63 155.00h2.6V160.00h-2.6zM745.72 148.75h2.6V181.90h-2.6zM751.81 178.10h2.6V183.75h-2.6zM763.99 156.25h2.6V164.40h-2.6zM767.04 163.75h2.6V165.00h-2.6zM770.08 164.40h2.6V168.75h-2.6zM779.22 153.10h2.6V157.50h-2.6zM791.40 121.90h2.6V123.10h-2.6zM794.45 123.10h2.6V128.10h-2.6zM803.58 116.25h2.6V118.75h-2.6zM809.68 113.75h2.6V125.00h-2.6zM815.77 125.00h2.6V128.10h-2.6zM818.81 128.10h2.6V148.75h-2.6zM821.86 148.10h2.6V153.75h-2.6zM827.95 143.10h2.6V177.50h-2.6zM834.04 172.18h2.6V173.18h-2.6zM843.18 135.00h2.6V137.50h-2.6zM864.49 53.75h2.6V80.60h-2.6zM870.59 63.75h2.6V78.10h-2.6zM873.63 78.10h2.6V147.50h-2.6zM876.68 147.50h2.6V164.40h-2.6zM885.81 129.40h2.6V145.60h-2.6zM888.86 145.00h2.6V163.75h-2.6zM891.90 163.10h2.6V183.75h-2.6zM894.95 183.10h2.6V197.50h-2.6zM907.13 165.00h2.6V183.10h-2.6zM910.18 182.50h2.6V188.75h-2.6zM925.40 133.10h2.6V136.90h-2.6zM928.45 136.90h2.6V147.50h-2.6zM931.50 147.50h2.6V169.40h-2.6zM934.54 168.75h2.6V183.10h-2.6zM946.72 164.40h2.6V196.25h-2.6zM949.77 196.25h2.6V236.25h-2.6zM955.86 217.50h2.6V237.50h-2.6zM961.95 221.90h2.6V229.40h-2.6zM971.09 200.00h2.6V223.75h-2.6zM974.13 223.75h2.6V234.40h-2.6zM977.18 234.40h2.6V250.60h-2.6zM980.22 250.60h2.6V290.75h-2.6zM986.31 282.00h2.6V293.50h-2.6zM989.36 293.25h2.6V309.75h-2.6zM995.45 303.25h2.6V314.50h-2.6zM998.50 314.50h2.6V352.50h-2.6zM1001.54 352.50h2.6V380.60h-2.6z" fill="#ef5350"/>
</g>
<defs><clipPath id="cq"><rect x="5.75" y="472.4" width="1068.85" height="151.89999999999998"/></clipPath></defs>
<g clip-path="url(#cq)">
<path d="M6.0 542.0L10.0 550.0L14.0 554.0L20.0 553.6L26.0 551.6L31.0 547.6L38.0 550.0L46.0 550.4L54.0 548.0L62.0 544.0L69.0 540.4L74.0 541.0L80.0 536.0L86.0 531.0L92.0 527.0L98.0 525.4L104.0 526.4L110.0 531.0L116.0 535.0L122.0 541.0L128.0 547.0L134.0 551.6L140.0 555.0L146.0 558.4L152.0 560.4L158.0 561.6L163.0 562.4L168.0 560.4L174.0 559.0L180.0 560.4L186.0 566.0L192.0 573.0L196.0 575.6L202.0 574.4L208.0 575.0L214.0 577.0L220.0 579.6L224.0 579.0L228.0 577.0L231.0 572.0L237.0 568.0L245.0 568.4L253.0 567.0L259.0 565.6L265.0 561.0L271.0 557.0L276.0 553.6L283.0 553.6L291.0 554.0L299.0 553.6L305.0 556.0L311.0 561.0L317.0 563.6L323.0 561.0L329.0 558.0L337.0 555.6L345.0 552.4L351.0 546.0L357.0 535.6L363.0 529.6L369.0 524.0L375.0 518.4L381.0 513.0L387.0 509.0L393.0 507.4L399.0 507.6L405.0 505.6L411.0 503.0L417.0 501.6L425.0 501.0L431.0 499.6L437.0 497.0L443.0 495.0L447.0 495.0L452.0 498.0L456.0 500.4L462.0 502.4L468.0 508.0L474.0 514.0L480.0 520.0L486.0 528.0L492.0 533.6L498.0 536.4L506.0 537.4L514.0 538.4L522.0 540.0L530.0 540.4L536.0 543.0L542.0 548.0L548.0 550.4L554.0 549.0L560.0 547.0L566.0 545.6L572.0 542.0L578.0 538.0L584.0 533.6L590.0 532.0L596.0 527.0L602.0 522.0L608.0 515.0L614.0 510.4L620.0 507.0L626.0 505.0L632.0 502.0L636.0 503.0L642.0 507.0L648.0 511.0L654.0 516.0L660.0 523.0L666.0 530.0L672.0 536.4L677.0 539.5L681.0 541.6L687.0 543.0L693.0 543.0L699.0 541.0L705.0 537.6L711.0 536.0L717.0 537.6L723.0 541.0L729.0 543.6L735.0 550.0L741.0 556.4L747.0 560.0L753.0 563.6L759.0 564.4L765.0 563.6L771.0 565.0L777.0 563.6L783.0 561.0L789.0 556.0L795.0 549.0L801.0 543.0L807.0 538.0L813.0 533.6L817.0 532.4L823.0 534.4L829.0 539.0L835.0 545.6L841.0 548.4L845.0 549.6L851.0 547.6L857.0 542.0L863.0 534.4L869.0 527.6L873.0 525.0L879.0 524.4L885.0 526.0L891.0 532.0L897.0 544.0L901.0 552.0L906.0 559.0L913.0 567.6L920.0 565.0L928.0 562.4L936.0 560.0L945.0 556.4L952.0 558.4L960.0 562.0L968.0 566.0L976.0 570.0L983.0 574.0L990.0 579.0L996.0 581.0L1002.4 586.0" stroke="#fdd835" stroke-width="1.1" fill="none" stroke-linejoin="round" stroke-linecap="round"/>
<path d="M6.0 559.0L10.0 567.0L14.0 560.0L17.0 550.0L20.0 541.0L22.0 537.0L28.0 536.0L31.0 518.0L34.0 542.0L36.0 552.0L40.0 566.0L44.0 556.0L52.4 556.4L55.0 546.0L58.0 526.0L61.0 529.0L64.0 513.0L67.6 511.6L71.0 530.4L74.0 524.0L76.6 513.0L80.0 526.0L83.0 525.0L86.0 522.0L89.0 523.0L92.0 535.0L98.0 542.0L101.0 530.0L104.0 527.6L107.0 538.0L110.0 550.0L113.4 563.6L116.0 545.6L119.0 559.0L122.0 565.0L134.0 566.0L137.0 559.0L140.6 568.0L144.0 554.0L147.0 560.0L150.0 554.4L153.0 554.4L156.0 562.0L162.0 565.0L165.0 558.0L168.0 545.0L171.0 558.0L174.0 557.0L177.0 559.0L179.6 585.0L183.0 596.0L186.6 608.4L189.0 605.0L192.4 606.0L195.0 593.0L197.0 566.0L198.6 544.4L201.0 573.0L204.0 569.0L208.0 554.4L210.0 556.0L214.0 567.0L216.0 569.0L220.0 585.0L223.0 589.6L226.0 570.0L229.4 567.6L232.4 574.4L235.0 564.0L238.0 561.0L241.4 566.4L244.6 560.4L247.0 564.4L250.6 547.6L253.6 557.0L259.0 558.4L262.6 548.0L266.0 542.0L269.4 543.0L272.0 545.0L274.6 543.0L277.4 557.0L280.6 565.0L284.0 566.4L287.0 565.0L289.6 550.0L293.0 562.0L296.6 557.0L299.4 554.4L302.0 555.6L305.0 579.0L308.0 575.0L311.0 585.6L314.0 551.6L317.0 562.0L320.0 547.0L323.4 539.6L326.6 545.6L329.4 542.4L333.0 546.4L336.0 544.4L338.6 541.0L342.0 542.4L345.0 540.0L347.4 539.0L350.6 528.4L353.6 505.6L358.0 504.0L362.6 501.0L366.0 501.6L368.6 508.0L372.0 503.6L375.0 509.6L378.0 510.4L381.0 501.0L384.0 499.6L387.0 509.0L390.2 522.4L393.4 519.0L396.6 508.0L399.6 508.0L402.6 486.0L405.6 487.6L409.0 482.5L412.0 493.0L414.6 501.0L417.4 496.0L420.6 501.0L424.0 501.0L427.0 503.0L430.0 506.0L433.0 492.4L436.0 500.0L439.0 496.0L442.0 487.0L445.0 480.5L448.0 515.0L451.0 513.6L454.0 508.4L457.6 507.0L460.4 511.6L463.6 519.6L466.4 532.0L469.4 546.4L472.0 544.0L475.0 536.4L478.6 535.2L482.0 540.0L485.0 544.4L488.0 564.4L491.0 546.4L494.0 540.0L497.0 538.0L500.0 514.4L503.0 514.4L506.6 530.4L509.4 545.6L512.4 543.6L515.6 547.2L518.6 545.6L521.4 539.0L524.6 553.0L527.6 551.0L530.6 553.0L533.6 562.4L536.6 569.0L539.4 575.0L542.6 544.0L545.6 539.6L548.6 532.0L552.0 535.0L555.0 534.0L557.6 533.0L560.4 526.0L564.0 536.4L567.0 547.6L570.0 526.4L573.0 523.6L576.0 536.0L579.0 534.4L582.4 528.4L585.4 535.6L588.6 532.0L591.6 515.0L594.4 497.0L597.4 491.6L600.0 492.4L603.0 487.6L606.4 485.0L610.0 504.0L613.0 500.4L616.0 499.0L619.0 510.4L622.0 511.0L625.6 516.0L628.4 514.4L631.4 503.0L634.0 514.0L637.0 518.0L640.0 524.4L643.0 523.0L646.6 514.0L649.4 526.4L652.4 528.0L655.0 529.6L658.0 546.0L661.0 567.0L664.4 571.0L667.4 557.6L670.4 550.0L673.6 556.4L676.4 548.0L679.6 531.6L682.6 536.4L685.4 539.6L688.6 521.6L691.6 525.6L694.6 519.0L697.6 503.0L700.6 540.0L703.6 544.4L707.0 545.0L710.0 545.0L713.0 552.4L716.4 570.0L719.4 561.6L722.4 569.0L725.6 544.0L728.6 552.0L731.6 560.0L734.4 574.4L737.6 565.6L740.6 566.4L743.6 559.6L747.0 576.0L750.0 573.6L753.0 575.6L756.0 567.0L759.0 557.6L762.0 555.0L765.0 559.6L768.0 560.4L771.0 562.4L774.0 557.0L777.0 550.0L780.0 552.0L783.0 538.4L786.0 528.4L789.0 525.0L792.0 526.0L795.6 531.0L798.4 530.0L801.4 521.6L804.4 524.4L807.4 520.4L810.6 534.0L813.6 535.6L816.6 539.0L819.6 561.0L823.0 565.0L826.0 554.0L828.6 580.0L831.6 575.0L834.6 574.4L837.6 555.0L840.6 539.0L844.0 540.4L847.0 516.4L850.0 507.0L853.0 502.4L856.0 501.0L859.4 496.4L862.6 492.4L865.6 519.0L868.6 512.0L871.6 524.0L874.6 566.0L877.4 573.6L880.4 554.0L883.6 553.0L886.6 561.0L889.6 568.0L892.6 576.4L896.0 582.4L899.0 576.4L902.4 566.0L905.0 561.0L908.0 569.0L911.4 571.6L914.0 559.0L917.0 554.4L920.0 551.0L923.0 537.0L926.0 538.0L929.0 543.0L932.0 554.4L935.0 566.0L938.0 561.0L941.4 557.0L944.4 554.4L947.4 571.0L950.4 589.0L953.4 576.0L956.4 583.0L959.6 573.6L962.6 575.6L966.0 561.6L969.0 557.6L972.0 568.4L975.0 573.0L978.0 581.0L981.0 593.0L984.0 589.6L987.4 593.0L990.4 597.0L993.0 593.0L996.0 596.4L999.0 607.6L1002.4 614.0" stroke="#7e57c2" stroke-width="2.2" fill="none" stroke-linejoin="round" stroke-linecap="round"/>
</g>
<text x="12.5" y="35.4" font-size="10.3" fill="#131722" stroke="#131722" stroke-width="0.22" textLength="151.3" lengthAdjust="spacingAndGlyphs">Bitcoin / TetherUS · 1D · Binance</text>
<text x="170.6" y="35.4" font-size="10.3" fill="#131722" stroke="#131722" stroke-width="0.22" textLength="6.2" lengthAdjust="spacingAndGlyphs">O</text>
<text x="176.9" y="35.4" font-size="10.3" fill="#ef5350" stroke="#ef5350" stroke-width="0.22" textLength="45" lengthAdjust="spacingAndGlyphs">86,637.22</text>
<text x="228.0" y="35.4" font-size="10.3" fill="#131722" stroke="#131722" stroke-width="0.22" textLength="6.1" lengthAdjust="spacingAndGlyphs">H</text>
<text x="234.4" y="35.4" font-size="10.3" fill="#ef5350" stroke="#ef5350" stroke-width="0.22" textLength="45" lengthAdjust="spacingAndGlyphs">87,498.94</text>
<text x="285.8" y="35.4" font-size="10.3" fill="#131722" stroke="#131722" stroke-width="0.22" textLength="4.8" lengthAdjust="spacingAndGlyphs">L</text>
<text x="291.2" y="35.4" font-size="10.3" fill="#ef5350" stroke="#ef5350" stroke-width="0.22" textLength="45" lengthAdjust="spacingAndGlyphs">80,600.00</text>
<text x="342.5" y="35.4" font-size="10.3" fill="#131722" stroke="#131722" stroke-width="0.22" textLength="5.9" lengthAdjust="spacingAndGlyphs">C</text>
<text x="348.7" y="35.4" font-size="10.3" fill="#ef5350" stroke="#ef5350" stroke-width="0.22" textLength="44.6" lengthAdjust="spacingAndGlyphs">83,172.13</text>
<text x="400" y="35.4" font-size="10.3" fill="#ef5350" stroke="#ef5350" stroke-width="0.22" textLength="86" lengthAdjust="spacingAndGlyphs">−3,465.10 (−4.00%)</text>
<text x="12.5" y="49.8" font-size="10.3" fill="#131722" stroke="#131722" stroke-width="0.22" textLength="69.5" lengthAdjust="spacingAndGlyphs">EMA (20, close)</text>
<text x="88.75" y="49.8" font-size="10.3" fill="#2962ff" stroke="#2962ff" stroke-width="0.22" textLength="45" lengthAdjust="spacingAndGlyphs">97,319.44</text>
<text x="12.5" y="64.2" font-size="10.3" fill="#131722" stroke="#131722" stroke-width="0.22" textLength="69" lengthAdjust="spacingAndGlyphs">SMA (50, close)</text>
<text x="88.75" y="64.2" font-size="10.3" fill="#f23645" stroke="#f23645" stroke-width="0.22" textLength="49.6" lengthAdjust="spacingAndGlyphs">107,624.64</text>
<text x="12.5" y="488.7" font-size="10.3" fill="#131722" stroke="#131722" stroke-width="0.22" textLength="64.5" lengthAdjust="spacingAndGlyphs">RSI (14, close)</text>
<text x="83.8" y="488.7" font-size="10.3" fill="#7e57c2" stroke="#7e57c2" stroke-width="0.22" textLength="25.2" lengthAdjust="spacingAndGlyphs">21.68</text>
<text x="114.8" y="488.7" font-size="10.3" fill="#fdd835" stroke="#fdd835" stroke-width="0.22" textLength="25.2" lengthAdjust="spacingAndGlyphs">33.64</text>
<text x="1082.2" y="61.849999999999994" font-size="10.3" fill="#131722" stroke="#131722" stroke-width="0.22" textLength="49.8" lengthAdjust="spacingAndGlyphs">124,000.00</text>
<text x="1082.2" y="93.3" font-size="10.3" fill="#131722" stroke="#131722" stroke-width="0.22" textLength="49.8" lengthAdjust="spacingAndGlyphs">120,000.00</text>
<text x="1082.2" y="124.74999999999999" font-size="10.3" fill="#131722" stroke="#131722" stroke-width="0.22" textLength="49.8" lengthAdjust="spacingAndGlyphs">116,000.00</text>
<text x="1082.2" y="156.2" font-size="10.3" fill="#131722" stroke="#131722" stroke-width="0.22" textLength="49.8" lengthAdjust="spacingAndGlyphs">112,000.00</text>
<text x="1082.2" y="187.65" font-size="10.3" fill="#131722" stroke="#131722" stroke-width="0.22" textLength="49.8" lengthAdjust="spacingAndGlyphs">108,000.00</text>
<text x="1082.2" y="219.10000000000002" font-size="10.3" fill="#131722" stroke="#131722" stroke-width="0.22" textLength="49.8" lengthAdjust="spacingAndGlyphs">104,000.00</text>
<text x="1082.2" y="282.0" font-size="10.3" fill="#131722" stroke="#131722" stroke-width="0.22" textLength="44.8" lengthAdjust="spacingAndGlyphs">96,000.00</text>
<text x="1082.2" y="313.45" font-size="10.3" fill="#131722" stroke="#131722" stroke-width="0.22" textLength="44.8" lengthAdjust="spacingAndGlyphs">92,000.00</text>
<text x="1082.2" y="344.90000000000003" font-size="10.3" fill="#131722" stroke="#131722" stroke-width="0.22" textLength="44.8" lengthAdjust="spacingAndGlyphs">88,000.00</text>
<text x="1082.2" y="376.35" font-size="10.3" fill="#131722" stroke="#131722" stroke-width="0.22" textLength="44.8" lengthAdjust="spacingAndGlyphs">84,000.00</text>
<text x="1082.2" y="407.8" font-size="10.3" fill="#131722" stroke="#131722" stroke-width="0.22" textLength="44.8" lengthAdjust="spacingAndGlyphs">80,000.00</text>
<text x="1082.2" y="439.25" font-size="10.3" fill="#131722" stroke="#131722" stroke-width="0.22" textLength="44.8" lengthAdjust="spacingAndGlyphs">76,000.00</text>
<text x="1082.2" y="470.7" font-size="10.3" fill="#131722" stroke="#131722" stroke-width="0.22" textLength="44.8" lengthAdjust="spacingAndGlyphs">72,000.00</text>
<defs><clipPath id="cr"><rect x="1074.6" y="472.9" width="70" height="200"/></clipPath></defs>
<text x="1082.2" y="479.9" font-size="10.3" fill="#131722" stroke="#131722" stroke-width="0.22" textLength="25.2" lengthAdjust="spacingAndGlyphs" clip-path="url(#cr)">80.00</text>
<text x="1082.2" y="527.4" font-size="10.3" fill="#131722" stroke="#131722" stroke-width="0.22" textLength="25.2" lengthAdjust="spacingAndGlyphs" clip-path="url(#cr)">60.00</text>
<text x="1082.2" y="574.9" font-size="10.3" fill="#131722" stroke="#131722" stroke-width="0.22" textLength="25.2" lengthAdjust="spacingAndGlyphs" clip-path="url(#cr)">40.00</text>
<path d="M1075.1 47.4H1136.8V47.8Q1136.8 49.6 1135 49.6H1075.1z" fill="#0000ff"/>
<rect x="1077.3" y="22.3" width="59.3" height="22.2" rx="4" fill="#fff" stroke="#e6e7ea" stroke-width="1"/>
<text x="1085.4" y="37.6" font-size="10.3" fill="#131722" stroke="#131722" stroke-width="0.22" textLength="23.2" lengthAdjust="spacingAndGlyphs">USDT</text>
<path d="M1075.1 98.9H1135.1Q1137.1 98.9 1137.1 100.9V111.4Q1137.1 113.4 1135.1 113.4H1075.1z" fill="#0000ff"/>
<text x="1082.2" y="109.2" font-size="10.3" fill="#fff" stroke="#fff" stroke-width="0.5" textLength="49.8" lengthAdjust="spacingAndGlyphs">118,000.00</text>
<path d="M1074.1 170.9H1034.0Q1031.5 170.9 1031.5 173.4V183.4Q1031.5 185.9 1034.0 185.9H1074.1z" fill="#f23645"/>
<text x="1035.8" y="181.7" font-size="10.3" fill="#fff" stroke="#fff" stroke-width="0.5" textLength="34.9" lengthAdjust="spacingAndGlyphs">SMA:MA</text>
<path d="M1075.1 170.9H1135.1Q1137.1 170.9 1137.1 172.9V183.9Q1137.1 185.9 1135.1 185.9H1075.1z" fill="#f23645"/>
<text x="1082.2" y="181.7" font-size="10.3" fill="#fff" stroke="#fff" stroke-width="0.5" textLength="49.8" lengthAdjust="spacingAndGlyphs">107,624.64</text>
<path d="M1075.1 185.9H1135.1Q1137.1 185.9 1137.1 187.9V197.9Q1137.1 199.9 1135.1 199.9H1075.1z" fill="#0000ff"/>
<text x="1082.2" y="196.3" font-size="10.3" fill="#fff" stroke="#fff" stroke-width="0.5" textLength="49.8" lengthAdjust="spacingAndGlyphs">107,000.00</text>
<path d="M1075.1 240.9H1135.1Q1137.1 240.9 1137.1 242.9V253.6Q1137.1 255.6 1135.1 255.6H1075.1z" fill="#0000ff"/>
<text x="1082.2" y="251.6" font-size="10.3" fill="#fff" stroke="#fff" stroke-width="0.5" textLength="49.8" lengthAdjust="spacingAndGlyphs">100,000.00</text>
<path d="M1074.1 262.2H1050.4Q1047.9 262.2 1047.9 264.7V274.4Q1047.9 276.9 1050.4 276.9H1074.1z" fill="#2962ff"/>
<text x="1051.8" y="272.9" font-size="10.3" fill="#fff" stroke="#fff" stroke-width="0.5" textLength="18.9" lengthAdjust="spacingAndGlyphs">EMA</text>
<path d="M1075.1 262.2H1129Q1131 262.2 1131 264.2V274.9Q1131 276.9 1129 276.9H1075.1z" fill="#2962ff"/>
<text x="1081.7" y="272.9" font-size="10.3" fill="#fff" stroke="#fff" stroke-width="0.5" textLength="45.1" lengthAdjust="spacingAndGlyphs">97,319.44</text>
<path d="M1074.1 372.9H1028.1Q1025.6 372.9 1025.6 375.4V384.8Q1025.6 387.3 1028.1 387.3H1074.1z" fill="#ef5350"/>
<text x="1029.2" y="383.5" font-size="10.3" fill="#fff" stroke="#fff" stroke-width="0.5" textLength="41" lengthAdjust="spacingAndGlyphs">BTCUSDT</text>
<path d="M1075.1 372.9H1129Q1131 372.9 1131 374.9V408.8Q1131 410.8 1129 410.8H1075.1z" fill="#ef5350"/>
<text x="1081.7" y="383.1" font-size="10.3" fill="#fff" stroke="#fff" stroke-width="0.5" textLength="45.1" lengthAdjust="spacingAndGlyphs">83,172.13</text>
<text x="1081.7" y="395.3" font-size="10.3" fill="#fff" stroke="#fff" stroke-width="0.15" textLength="37" lengthAdjust="spacingAndGlyphs" fill-opacity="0.88" stroke-opacity="0.88">−12.73%</text>
<text x="1081.7" y="406.9" font-size="10.3" fill="#fff" stroke="#fff" stroke-width="0.15" textLength="39.5" lengthAdjust="spacingAndGlyphs" fill-opacity="0.85" stroke-opacity="0.85">07:24:17</text>
<path d="M1075.1 447.1H1129Q1131 447.1 1131 449.1V459.6Q1131 461.6 1129 461.6H1075.1z" fill="#0000ff"/>
<text x="1082" y="457.8" font-size="10.3" fill="#fff" stroke="#fff" stroke-width="0.5" textLength="44.8" lengthAdjust="spacingAndGlyphs">73,777.00</text>
<path d="M1074.1 580H1009Q1007 580 1007 582V592.1Q1007 594.1 1009 594.1H1074.1z" fill="#fdd835"/>
<text x="1010.6" y="590.9" font-size="10.3" fill="#131722" stroke="#131722" stroke-width="0.22" textLength="60.5" lengthAdjust="spacingAndGlyphs">RSI-based MA</text>
<path d="M1075.1 580H1109Q1111 580 1111 582V592.1Q1111 594.1 1109 594.1H1075.1z" fill="#fdd835"/>
<text x="1081.7" y="590.9" font-size="10.3" fill="#131722" stroke="#131722" stroke-width="0.22" textLength="25.2" lengthAdjust="spacingAndGlyphs">33.64</text>
<path d="M1074.1 608H1055Q1053 608 1053 610V620.2Q1053 622.2 1055 622.2H1074.1z" fill="#7e57c2"/>
<text x="1056.6" y="618.5" font-size="10.3" fill="#fff" stroke="#fff" stroke-width="0.5" textLength="13.4" lengthAdjust="spacingAndGlyphs">RSI</text>
<path d="M1075.1 608H1109Q1111 608 1111 610V620.2Q1111 622.2 1109 622.2H1075.1z" fill="#7e57c2"/>
<text x="1081.7" y="618.5" font-size="10.3" fill="#fff" stroke="#fff" stroke-width="0.5" textLength="25.2" lengthAdjust="spacingAndGlyphs">21.68</text>
<defs><clipPath id="ct"><rect x="5.75" y="624.3" width="1134.75" height="24"/></clipPath></defs>
<text x="16.4" y="640.1" font-size="10.0" fill="#131722" text-anchor="middle" font-weight="bold" clip-path="url(#ct)">2025</text>
<g clip-path="url(#ct)"><g transform="translate(110.81 0) scale(0.92 1) translate(-110.81 0)">
<text x="110.81" y="640.1" font-size="10.3" fill="#131722" stroke="#131722" stroke-width="0.22" text-anchor="middle">Feb</text>
</g></g>
<g clip-path="url(#ct)"><g transform="translate(196.08 0) scale(0.92 1) translate(-196.08 0)">
<text x="196.08" y="640.1" font-size="10.3" fill="#131722" stroke="#131722" stroke-width="0.22" text-anchor="middle">Mar</text>
</g></g>
<g clip-path="url(#ct)"><g transform="translate(290.5 0) scale(0.92 1) translate(-290.5 0)">
<text x="290.5" y="640.1" font-size="10.3" fill="#131722" stroke="#131722" stroke-width="0.22" text-anchor="middle">Apr</text>
</g></g>
<g clip-path="url(#ct)"><g transform="translate(381.86 0) scale(0.92 1) translate(-381.86 0)">
<text x="381.86" y="640.1" font-size="10.3" fill="#131722" stroke="#131722" stroke-width="0.22" text-anchor="middle">May</text>
</g></g>
<g clip-path="url(#ct)"><g transform="translate(476.27 0) scale(0.92 1) translate(-476.27 0)">
<text x="476.27" y="640.1" font-size="10.3" fill="#131722" stroke="#131722" stroke-width="0.22" text-anchor="middle">Jun</text>
</g></g>
<g clip-path="url(#ct)"><g transform="translate(567.64 0) scale(0.92 1) translate(-567.64 0)">
<text x="567.64" y="640.1" font-size="10.3" fill="#131722" stroke="#131722" stroke-width="0.22" text-anchor="middle">Jul</text>
</g></g>
<g clip-path="url(#ct)"><g transform="translate(662.05 0) scale(0.92 1) translate(-662.05 0)">
<text x="662.05" y="640.1" font-size="10.3" fill="#131722" stroke="#131722" stroke-width="0.22" text-anchor="middle">Aug</text>
</g></g>
<g clip-path="url(#ct)"><g transform="translate(756.46 0) scale(0.92 1) translate(-756.46 0)">
<text x="756.46" y="640.1" font-size="10.3" fill="#131722" stroke="#131722" stroke-width="0.22" text-anchor="middle">Sep</text>
</g></g>
<g clip-path="url(#ct)"><g transform="translate(847.82 0) scale(0.92 1) translate(-847.82 0)">
<text x="847.82" y="640.1" font-size="10.3" fill="#131722" stroke="#131722" stroke-width="0.22" text-anchor="middle">Oct</text>
</g></g>
<g clip-path="url(#ct)"><g transform="translate(942.23 0) scale(0.92 1) translate(-942.23 0)">
<text x="942.23" y="640.1" font-size="10.3" fill="#131722" stroke="#131722" stroke-width="0.22" text-anchor="middle">Nov</text>
</g></g>
<g clip-path="url(#ct)"><g transform="translate(1033.6 0) scale(0.92 1) translate(-1033.6 0)">
<text x="1033.6" y="640.1" font-size="10.3" fill="#131722" stroke="#131722" stroke-width="0.22" text-anchor="middle">Dec</text>
</g></g>
<g>
<circle cx="1002.9" cy="460.9" r="8.2" fill="#fff" stroke="#9c27b0" stroke-width="1.6"/>
<path d="M1004.9 456.6L1000.5 461.1H1005.7L1000.4 465.7" fill="none" stroke="#9c27b0" stroke-width="1.5" stroke-linejoin="miter" stroke-linecap="round"/>
<circle cx="1008.9" cy="455.1" r="3.3" fill="#fff"/>
<circle cx="1008.9" cy="455.1" r="2.1" fill="#f23645"/>
</g>
<g transform="translate(7.3 664.1) scale(0.7)" fill="#000">
<path d="M14 22H7V11H0V4h14v18z"/><circle cx="20" cy="8" r="4"/><path d="M28 22h-8l7.5-18h8L28 22z"/>
</g>
<text x="38.5" y="679.5" font-size="17.8" fill="#000" stroke="#000" stroke-width="0.4" font-weight="bold" textLength="103.3" lengthAdjust="spacingAndGlyphs">TradingView</text>
</svg></body></html>
